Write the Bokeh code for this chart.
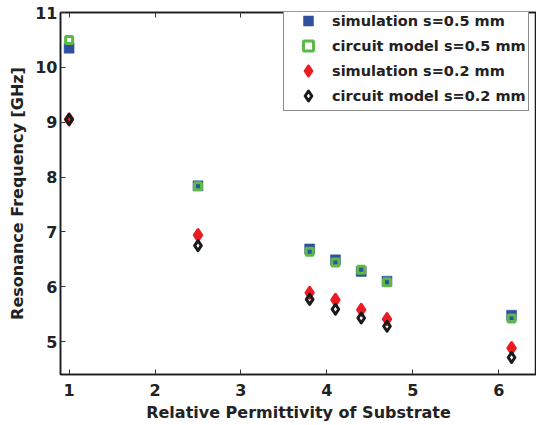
from bokeh.plotting import figure
from bokeh.models import Range1d, FixedTicker, LinearAxis, Legend, LegendItem, CustomJSTickFormatter
from bokeh.embed import file_html
from bokeh.resources import INLINE

# Data
permittivity = [1.0, 2.5, 3.8, 4.1, 4.4, 4.7, 6.15]
sim_05 = [10.35, 7.84, 6.69, 6.49, 6.28, 6.10, 5.48]
circ_05 = [10.50, 7.83, 6.64, 6.44, 6.31, 6.08, 5.42]
sim_02 = [9.05, 6.94, 5.89, 5.76, 5.58, 5.41, 4.88]
circ_02 = [9.05, 6.75, 5.77, 5.59, 5.43, 5.28, 4.71]

x_ticks = [1, 2, 3, 4, 5, 6]
y_ticks = [5, 6, 7, 8, 9, 10, 11]

labels = ["simulation s=0.5 mm", "circuit model s=0.5 mm",
          "simulation s=0.2 mm", "circuit model s=0.2 mm"]

FONT = "DejaVu Sans"

p = figure(width=536, height=425, output_backend="svg", toolbar_location=None,
           x_range=Range1d(0.9, 6.44), y_range=Range1d(4.4, 11),
           min_border_left=60, min_border_right=0, min_border_top=12,
           min_border_bottom=51, background_fill_color="white",
           border_fill_color="white")
p.xgrid.visible = False
p.ygrid.visible = False
p.outline_line_color = "#1a1a1a"
p.outline_line_width = 1.5

r1 = p.scatter(permittivity, sim_05, marker="square", size=10,
               fill_color="#2f4f9f", line_color="#2f4f9f", line_width=0.5)
r2 = p.scatter(permittivity, circ_05, marker="square", size=7,
               fill_alpha=0, line_color="#5cb947", line_width=3)
r3 = p.scatter(permittivity, sim_02, marker="diamond", size=11,
               fill_color="#ec1c24", line_color="#ec1c24", line_width=3,
               line_join="round")
r4 = p.scatter(permittivity, circ_02, marker="diamond", size=10,
               fill_alpha=0, line_color="#1a1a1a", line_width=3,
               line_join="round")

for ax in (p.xaxis[0], p.yaxis[0]):
    ax.major_tick_in = 5
    ax.major_tick_out = 0
    ax.minor_tick_line_color = None
    ax.axis_line_color = "#1a1a1a"
    ax.axis_line_width = 1.5
    ax.major_tick_line_color = "#333333"
    ax.major_label_text_font = FONT
    ax.major_label_text_font_style = "bold"
    ax.major_label_text_font_size = "16px"
    ax.major_label_text_color = "#222222"
    ax.axis_label_text_font = FONT
    ax.axis_label_text_font_style = "bold"
    ax.axis_label_text_font_size = "16px"
    ax.axis_label_text_color = "#222222"

p.xaxis[0].ticker = FixedTicker(ticks=x_ticks)
p.yaxis[0].ticker = FixedTicker(ticks=y_ticks)
p.xaxis[0].major_label_standoff = 9
p.xaxis[0].axis_label_standoff = 4
p.yaxis[0].major_label_standoff = 3
p.yaxis[0].axis_label_standoff = 5
p.xaxis[0].axis_label = "Relative Permittivity of Substrate"
p.yaxis[0].axis_label = "Resonance Frequency [GHz]"

top = LinearAxis(ticker=FixedTicker(ticks=x_ticks),
                 formatter=CustomJSTickFormatter(code="return ''"),
                 major_tick_in=5, major_tick_out=0,
                 minor_tick_line_color=None, axis_line_color="#1a1a1a",
                 axis_line_width=1.5, major_tick_line_color="#333333",
                 major_label_standoff=0)
p.add_layout(top, "above")

legend = Legend(items=[LegendItem(label=labels[0], renderers=[r1]),
                       LegendItem(label=labels[1], renderers=[r2]),
                       LegendItem(label=labels[2], renderers=[r3]),
                       LegendItem(label=labels[3], renderers=[r4])],
                location=(223, 263))
legend.label_text_font = FONT
legend.label_text_font_style = "bold"
legend.label_text_font_size = "14.5px"
legend.label_text_color = "#222222"
legend.label_height = 25
legend.glyph_height = 25
legend.glyph_width = 44
legend.label_standoff = 2
legend.spacing = -3
legend.padding = 2
legend.margin = 0
legend.border_line_color = "#1a1a1a"
legend.border_line_width = 1.5
legend.background_fill_color = "white"
legend.background_fill_alpha = 1
p.add_layout(legend, "center")

open("out.html", "w").write(file_html(p, INLINE))
